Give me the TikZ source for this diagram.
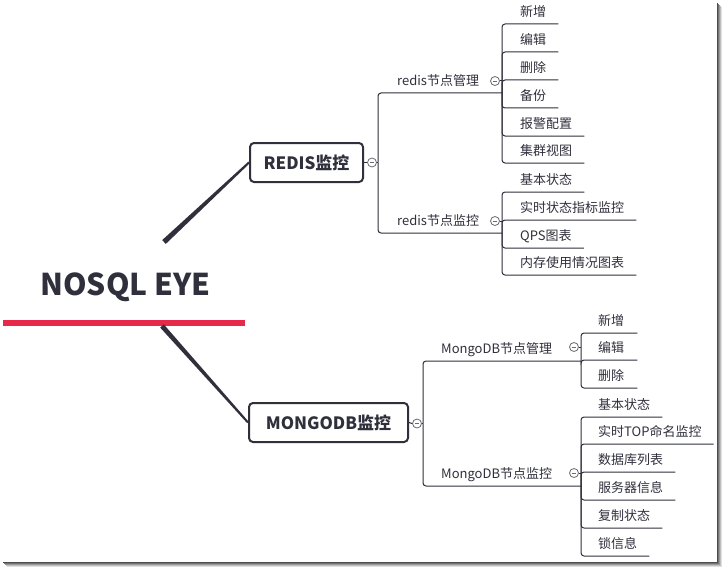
\documentclass[tikz,border=0pt]{standalone}
\usepackage{fontspec}
\setmainfont{Noto Sans CJK SC}
\usetikzlibrary{calc}
\definecolor{ink}{HTML}{30303D}
\definecolor{redline}{HTML}{E8284A}
\definecolor{knob}{HTML}{6A6A72}
\begin{document}
\begin{tikzpicture}[x=1pt,y=-1pt,
  conn/.style={draw=ink, line width=1pt, rounded corners=3pt},
  item/.style={anchor=south west, inner xsep=0pt, inner ysep=4.5pt, text height=10pt, text depth=3pt,
    font=\fontsize{13}{15}\selectfont, text=ink},
  topic/.style={draw=ink, line width=2pt, rounded corners=4pt, font=\bfseries\fontsize{17}{20}\selectfont,
    text=ink, minimum height=39pt, inner xsep=0pt},
  knobstyle/.style={circle, draw=knob, fill=white, line width=0.8pt, minimum size=9pt, inner sep=0pt,
    path picture={\draw[knob, line width=0.8pt] ([xshift=-2.4pt]path picture bounding box.center) -- ([xshift=2.4pt]path picture bounding box.center);}}
]
\useasboundingbox (0,0) rectangle (722,567);
\fill[white] (0,0) rectangle (722,567);
% shadow frame
\foreach \i/\c in {0/70,1/55,2/40,3/25,4/12}{
  \draw[black!\c, line width=1pt] (717.5+\i,3+\i) -- (717.5+\i,567);
  \draw[black!\c, line width=1pt] (3+\i,562.5+\i) -- (717+\i,562.5+\i);
}
% root
\node[font=\bfseries\fontsize{30}{36}\selectfont, text=ink, inner sep=0pt, anchor=base] (root) at (125.5,295) {NOSQL EYE};
\coordinate (redL) at (3,323);
\coordinate (redR) at (245,323);
\draw[redline, line width=6pt] (redL) -- (redR);

% topics
\node[topic, minimum width=113pt] (redis) at (306.5,162.5) {REDIS监控};
\node[topic, minimum width=159pt] (mongo) at (328.5,422.5) {MONGODB监控};

% tapered main connectors
\coordinate (u0) at (164,242);
\coordinate (m0) at (162,326);
\fill[ink] ($(u0)+(-1.8,-1.9)$) -- ($(u0)+(1.8,1.9)$) -- ($(redis.west)+(0.7,0.8)$) -- ($(redis.west)+(-0.7,-0.8)$) -- cycle;
\fill[ink] ($(m0)+(-1.8,1.6)$) -- ($(m0)+(1.8,-1.6)$) -- ($(mongo.west)+(0.75,-0.7)$) -- ($(mongo.west)+(-0.75,0.7)$) -- cycle;

% ---------- REDIS branch ----------
\node[knobstyle] (kR) at (372,162.5) {};
\coordinate (jR) at (378,162.5);
\coordinate (cR1) at (502,93);
\coordinate (cR2) at (502,233);
\draw[conn] (redis.east) -- (kR.west);
\draw[conn] (kR.east) -- (jR);
\draw[conn] (jR) |- (cR1);
\draw[conn] (jR) |- (cR2);
\node[item] (rm1) at (397,93) {redis节点管理};
\node[item] (rm2) at (397,233) {redis节点监控};
\node[knobstyle] (kR1) at (495,81) {};
\node[knobstyle] (kR2) at (495,221) {};
\draw[conn] (kR1.east) -- (kR1.east -| cR1);
\draw[conn] (kR2.east) -- (kR2.east -| cR2);

\node[item] (r11) at (520,24) {新增};
\node[item] (r12) at (520,52) {编辑};
\node[item] (r13) at (520,80) {删除};
\node[item] (r14) at (520,108) {备份};
\node[item] (r15) at (520,136) {报警配置};
\node[item] (r16) at (520,163) {集群视图};
\foreach \n in {r11,r12,r13,r14,r15,r16}{
  \draw[conn] (cR1) |- ([xshift=12pt]\n.south east);
}
\node[item] (r21) at (520,192) {基本状态};
\node[item] (r22) at (520,220) {实时状态指标监控};
\node[item] (r23) at (520,248) {QPS图表};
\node[item] (r24) at (520,275) {内存使用情况图表};
\foreach \n in {r21,r22,r23,r24}{
  \draw[conn] (cR2) |- ([xshift=12pt]\n.south east);
}

% ---------- MONGODB branch ----------
\node[knobstyle] (kM) at (417,423.5) {};
\coordinate (jM) at (423,423.5);
\coordinate (cM1) at (581,361);
\coordinate (cM2) at (581,486);
\draw[conn] (mongo.east) -- (kM.west);
\draw[conn] (kM.east) -- (jM);
\draw[conn] (jM) |- (cM1);
\draw[conn] (jM) |- (cM2);
\node[item] (mm1) at (441,361) {MongoDB节点管理};
\node[item] (mm2) at (441,486) {MongoDB节点监控};
\node[knobstyle] (kM1) at (574,347) {};
\node[knobstyle] (kM2) at (574,473) {};
\draw[conn] (kM1.east) -- (kM1.east -| cM1);
\draw[conn] (kM2.east) -- (kM2.east -| cM2);

\node[item] (m11) at (598,333) {新增};
\node[item] (m12) at (598,360) {编辑};
\node[item] (m13) at (598,388) {删除};
\foreach \n in {m11,m12,m13}{
  \draw[conn] (cM1) |- ([xshift=13pt]\n.south east);
}
\node[item] (m21) at (598,417) {基本状态};
\node[item] (m22) at (598,444) {实时TOP命名监控};
\node[item] (m23) at (598,472) {数据库列表};
\node[item] (m24) at (598,500) {服务器信息};
\node[item] (m25) at (598,528) {复制状态};
\node[item] (m26) at (598,556) {锁信息};
\foreach \n in {m21,m22,m23,m24,m25,m26}{
  \draw[conn] (cM2) |- ([xshift=12pt]\n.south east);
}
\end{tikzpicture}
\end{document}
